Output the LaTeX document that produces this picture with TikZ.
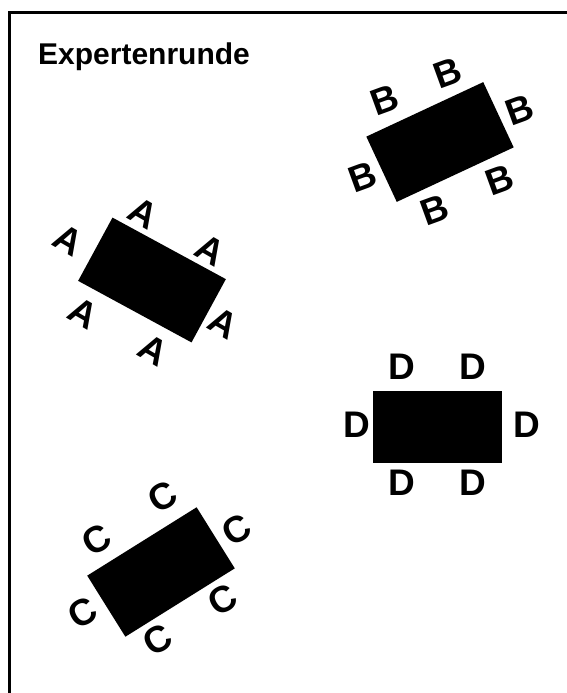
\documentclass[tikz,border=0pt]{standalone}
\usepackage{fontspec}
\setmainfont{Liberation Sans}
\begin{document}
\begin{tikzpicture}[x=1pt,y=-1pt,
  tablebox/.style={draw=none,fill=black,inner sep=0pt,minimum width=129pt,minimum height=72pt},
  seat/.style={inner sep=0pt,font=\fontsize{37}{37}\selectfont\bfseries},
  titletext/.style={inner sep=0pt,anchor=west,font=\fontsize{30}{30}\selectfont\bfseries}]
\useasboundingbox (0,0) rectangle (567,693);
\draw[line width=3pt] (9.5,693) -- (9.5,13) -- (567,13);
\node[titletext] (title) at (38,57) {Expertenrunde};
% B table
\node[tablebox,rotate=25] (tb) at (440,142) {};
\foreach \n/\x/\y in {1/448/73,2/385/100,3/520/110,4/363/177,5/435/210,6/500/180}
  \node[seat,rotate=20] (b\n) at (\x,\y) {B};
% A table
\node[tablebox,rotate=-28.5] (ta) at (152,280) {};
\foreach \n/\x/\y in {1/68/240,2/143/213,3/210/250,4/83/313,5/153/350,6/223/323}
  \node[seat,rotate=-30] (a\n) at (\x,\y) {A};
% C table
\node[tablebox,rotate=32] (tc) at (161,572) {};
\foreach \n/\x/\y in {1/97/540,2/163/497,3/237/530,4/83/613,5/158/640,6/223/600}
  \node[seat,rotate=30] (c\n) at (\x,\y) {C};
% D table
\node[tablebox] (td) at (437.5,427) {};
\foreach \n/\x/\y in {1/402/367,2/473/367,3/357/425,4/527/425,5/402/483,6/473/483}
  \node[seat] (d\n) at (\x,\y) {D};
\end{tikzpicture}
\end{document}
